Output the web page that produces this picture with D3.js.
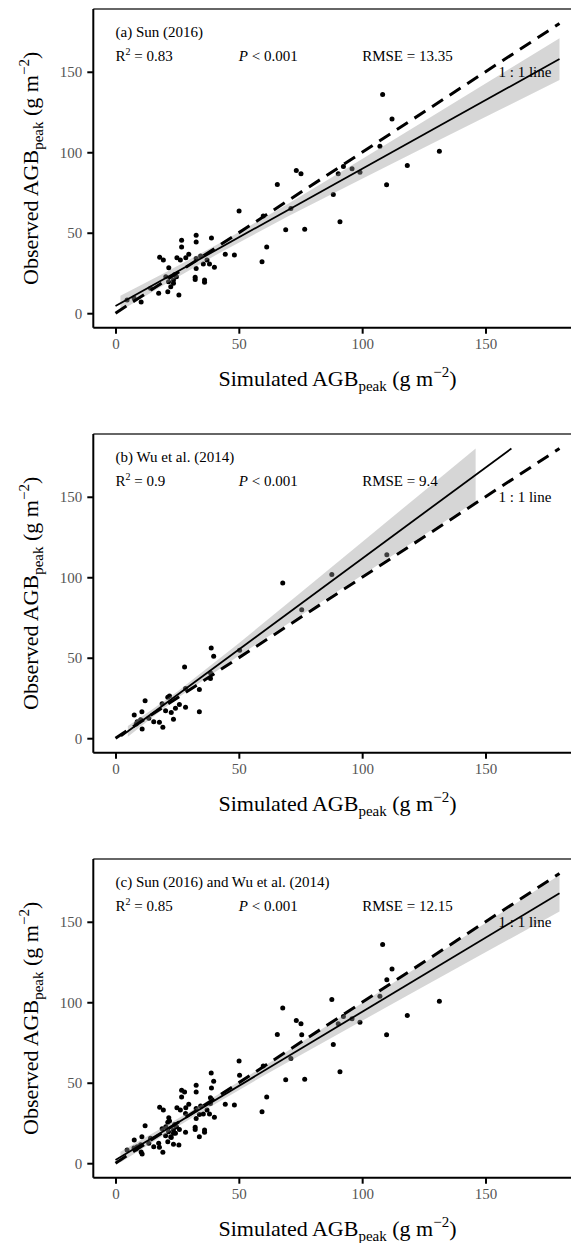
<!DOCTYPE html>
<html>
<head>
<meta charset="utf-8">
<script src="https://cdn.jsdelivr.net/npm/d3@7"></script>
<style>
  body { margin: 0; background: #fff; }
  svg { display: block; font-family: "Liberation Serif", "DejaVu Serif", serif; }
</style>
</head>
<body>
<svg id="chart" width="571" height="1243"></svg>
<script>
// Sun (2016): simulated vs observed AGB peak
const sunSim = [4.7, 7.5, 10.4, 14.2, 17.5, 17.9, 19.4, 20.4, 21.2, 21.5, 21.6, 22.4, 23.5, 23.5, 24.0, 24.7, 24.9, 25.7,
  26.3, 26.8, 26.8, 28.5, 29.7, 32.3, 32.3, 32.7, 32.7, 32.7, 32.7, 34.5, 35.6, 36.1, 36.1, 37.1, 38.1, 38.9, 40.1,
  44.5, 48.2, 50.1, 59.4, 59.9, 61.3, 65.6, 69.0, 71.1, 73.3, 75.2, 76.7, 88.3, 90.3, 91.0, 92.4, 95.9, 99.1,
  107.2, 108.3, 109.9, 112.1, 118.3, 131.3];
const sunObs = [8.2, 9.5, 7.0, 15.5, 12.4, 34.7, 33.0, 22.7, 13.4, 19.6, 28.2, 16.5, 20.6, 18.6, 24.0, 22.7, 34.4, 11.3,
  33.0, 45.4, 41.2, 34.5, 36.7, 22.3, 21.0, 48.5, 44.3, 27.8, 34.0, 35.5, 30.5, 20.6, 19.2, 33.0, 30.5, 46.8, 28.5,
  36.7, 36.1, 63.5, 31.9, 60.4, 41.2, 80.0, 51.8, 65.0, 88.6, 86.6, 52.2, 73.8, 86.6, 56.9, 91.1, 89.7, 87.6,
  103.7, 135.9, 79.8, 120.7, 91.8, 100.6];

// Wu et al. (2014)
const wuSim = [7.6, 8.4, 8.8, 10.2, 10.7, 10.8, 12.0, 13.5, 15.5, 17.8, 18.9, 19.2, 20.3, 21.2, 21.9, 22.6, 23.5,
  24.3, 25.9, 28.0, 28.4, 28.4, 34.0, 34.0, 38.5, 38.5, 38.8, 39.8, 50.3, 67.8, 75.5, 87.7, 110.0];
const wuObs = [14.4, 8.8, 10.3, 11.5, 16.5, 5.8, 23.3, 12.4, 10.3, 9.9, 21.4, 6.8, 17.0, 25.4, 26.2, 15.9, 11.8,
  18.6, 21.0, 44.3, 19.2, 30.9, 30.3, 16.5, 40.6, 37.1, 56.1, 50.9, 54.6, 96.5, 79.8, 101.7, 114.0];

// fitted lines
const fitA = { x: [0, 180], y: [4.5, 157.9] };
const fitB = { x: [2.3, 160.5], y: [1.2, 180] };
const fitC = { x: [0, 180], y: [2.0, 167.7] };

// confidence bands
const bandAx = [2, 20, 42, 70, 100, 130, 155, 180];
const bandAlo = [1.5, 17.9, 37.3, 60.2, 83.6, 106.7, 125.8, 144.9];
const bandAhi = [10.9, 25.1, 43.3, 68.0, 95.8, 123.9, 147.4, 170.9];
const bandBx = [5, 15, 25, 50, 75, 100, 125, 146];
const bandBlo = [0.9, 13.1, 24.9, 51.2, 76.3, 101.3, 126.2, 147.1];
const bandBhi = [7.6, 18.0, 28.9, 59.0, 90.4, 121.9, 153.5, 180];
const bandCx = [2, 20, 35, 60, 90, 120, 150, 180];
const bandClo = [0.5, 17.9, 32.0, 54.3, 80.0, 105.6, 131.0, 156.4];
const bandChi = [7.2, 22.9, 36.4, 60.1, 89.6, 119.4, 149.2, 179.0];

const tickValues = [0, 50, 100, 150];
const panelTitles = ["(a) Sun (2016)", "(b) Wu et al. (2014)", "(c) Sun (2016) and Wu et al. (2014)"];
const r2Labels = ["0.83", "0.9", "0.85"];
const rmseLabels = ["13.35", "9.4", "12.15"];

const zip = (a, b) => a.map((v, i) => [v, b[i]]);
const panels = [
  { pts: zip(sunSim, sunObs), fit: fitA, band: [bandAx, bandAlo, bandAhi] },
  { pts: zip(wuSim, wuObs), fit: fitB, band: [bandBx, bandBlo, bandBhi] },
  { pts: zip(sunSim, sunObs).concat(zip(wuSim, wuObs)), fit: fitC, band: [bandCx, bandClo, bandChi] }
];

const svg = d3.select("#chart");
const left = 93.3, right = 581.7;

panels.forEach((p, i) => {
  const top = 9 + i * 425, bottom = 327.7 + i * 425;
  const x = d3.scaleLinear().domain([-9, 189]).range([left, right]);
  const y = d3.scaleLinear().domain([-9, 189]).range([bottom, top]);
  const g = svg.append("g");

  g.append("clipPath").attr("id", "clip" + i)
    .append("rect").attr("x", left).attr("y", top).attr("width", right - left).attr("height", bottom - top);
  const plot = g.append("g").attr("clip-path", "url(#clip" + i + ")");

  // points
  plot.selectAll("circle").data(p.pts).enter().append("circle")
    .attr("cx", d => x(d[0])).attr("cy", d => y(d[1])).attr("r", 2.5).attr("fill", "#000");

  // band
  const bandData = p.band[0].map((v, k) => ({ x: v, lo: p.band[1][k], hi: p.band[2][k] }));
  plot.append("path").datum(bandData)
    .attr("d", d3.area().x(d => x(d.x)).y0(d => y(d.lo)).y1(d => y(d.hi)))
    .attr("fill", "#999").attr("fill-opacity", 0.4);

  // fitted line
  plot.append("path").datum(zip(p.fit.x, p.fit.y))
    .attr("d", d3.line().x(d => x(d[0])).y(d => y(d[1])))
    .attr("fill", "none").attr("stroke", "#000").attr("stroke-width", 1.8);

  // 1:1 line
  plot.append("path").datum([[0, 0], [180, 180]])
    .attr("d", d3.line().x(d => x(d[0])).y(d => y(d[1])))
    .attr("fill", "none").attr("stroke", "#000").attr("stroke-width", 3).attr("stroke-dasharray", "13,8");

  // frame
  g.append("line").attr("x1", left).attr("x2", right).attr("y1", top).attr("y2", top)
    .attr("stroke", "#333").attr("stroke-width", 1.3);

  // axes
  const xAxis = g.append("g").attr("transform", `translate(0,${bottom})`)
    .call(d3.axisBottom(x).tickValues(tickValues).tickSize(6).tickPadding(5));
  const yAxis = g.append("g").attr("transform", `translate(${left},0)`)
    .call(d3.axisLeft(y).tickValues(tickValues).tickSize(6).tickPadding(5));
  [xAxis, yAxis].forEach(a => {
    a.select(".domain").attr("stroke", "#000").attr("stroke-width", 2);
    a.selectAll(".tick line").attr("stroke", "#000").attr("stroke-width", 2);
    a.selectAll(".tick text").attr("fill", "#555").attr("font-size", 15)
      .attr("font-family", "Liberation Serif, DejaVu Serif, serif");
  });
  xAxis.select(".domain").attr("d", `M${left},0H${right}`);
  yAxis.select(".domain").attr("d", `M0,${bottom}V${top}`);

  // annotations
  const ann = g.append("g").attr("font-size", 15).attr("fill", "#000");
  ann.append("text").attr("x", x(0)).attr("y", y(175)).attr("dy", "0.35em").text(panelTitles[i]);
  const r2 = ann.append("text").attr("x", x(0)).attr("y", y(160)).attr("dy", "0.35em");
  r2.append("tspan").text("R");
  r2.append("tspan").attr("font-size", 10).attr("dy", -6).text("2");
  r2.append("tspan").attr("dy", 6).text(" = " + r2Labels[i]);
  const pv = ann.append("text").attr("x", x(50)).attr("y", y(160)).attr("dy", "0.35em");
  pv.append("tspan").attr("font-style", "italic").text("P");
  pv.append("tspan").text(" < 0.001");
  ann.append("text").attr("x", x(100)).attr("y", y(160)).attr("dy", "0.35em").text("RMSE = " + rmseLabels[i]);
  ann.append("text").attr("x", x(166)).attr("y", y(150)).attr("dy", "0.35em")
    .attr("text-anchor", "middle").text("1 : 1 line");

  // axis titles
  const xt = g.append("text").attr("x", (left + right) / 2).attr("y", bottom + 58)
    .attr("text-anchor", "middle").attr("font-size", 22);
  xt.append("tspan").text("Simulated AGB");
  xt.append("tspan").attr("font-size", 15).attr("dy", 5).text("peak");
  xt.append("tspan").attr("dy", -5).text(" (g m");
  xt.append("tspan").attr("font-size", 15).attr("dy", -9).text("\u22122");
  xt.append("tspan").attr("dy", 9).text(")");

  const yt = g.append("text").attr("transform", `translate(38,${(top + bottom) / 2}) rotate(-90)`)
    .attr("text-anchor", "middle").attr("font-size", 22);
  yt.append("tspan").text("Observed AGB");
  yt.append("tspan").attr("font-size", 15).attr("dy", 5).text("peak");
  yt.append("tspan").attr("dy", -5).text(" (g m");
  yt.append("tspan").attr("font-size", 15).attr("dy", -9).text("\u22122");
  yt.append("tspan").attr("dy", 9).text(")");
});
</script>
</body>
</html>
